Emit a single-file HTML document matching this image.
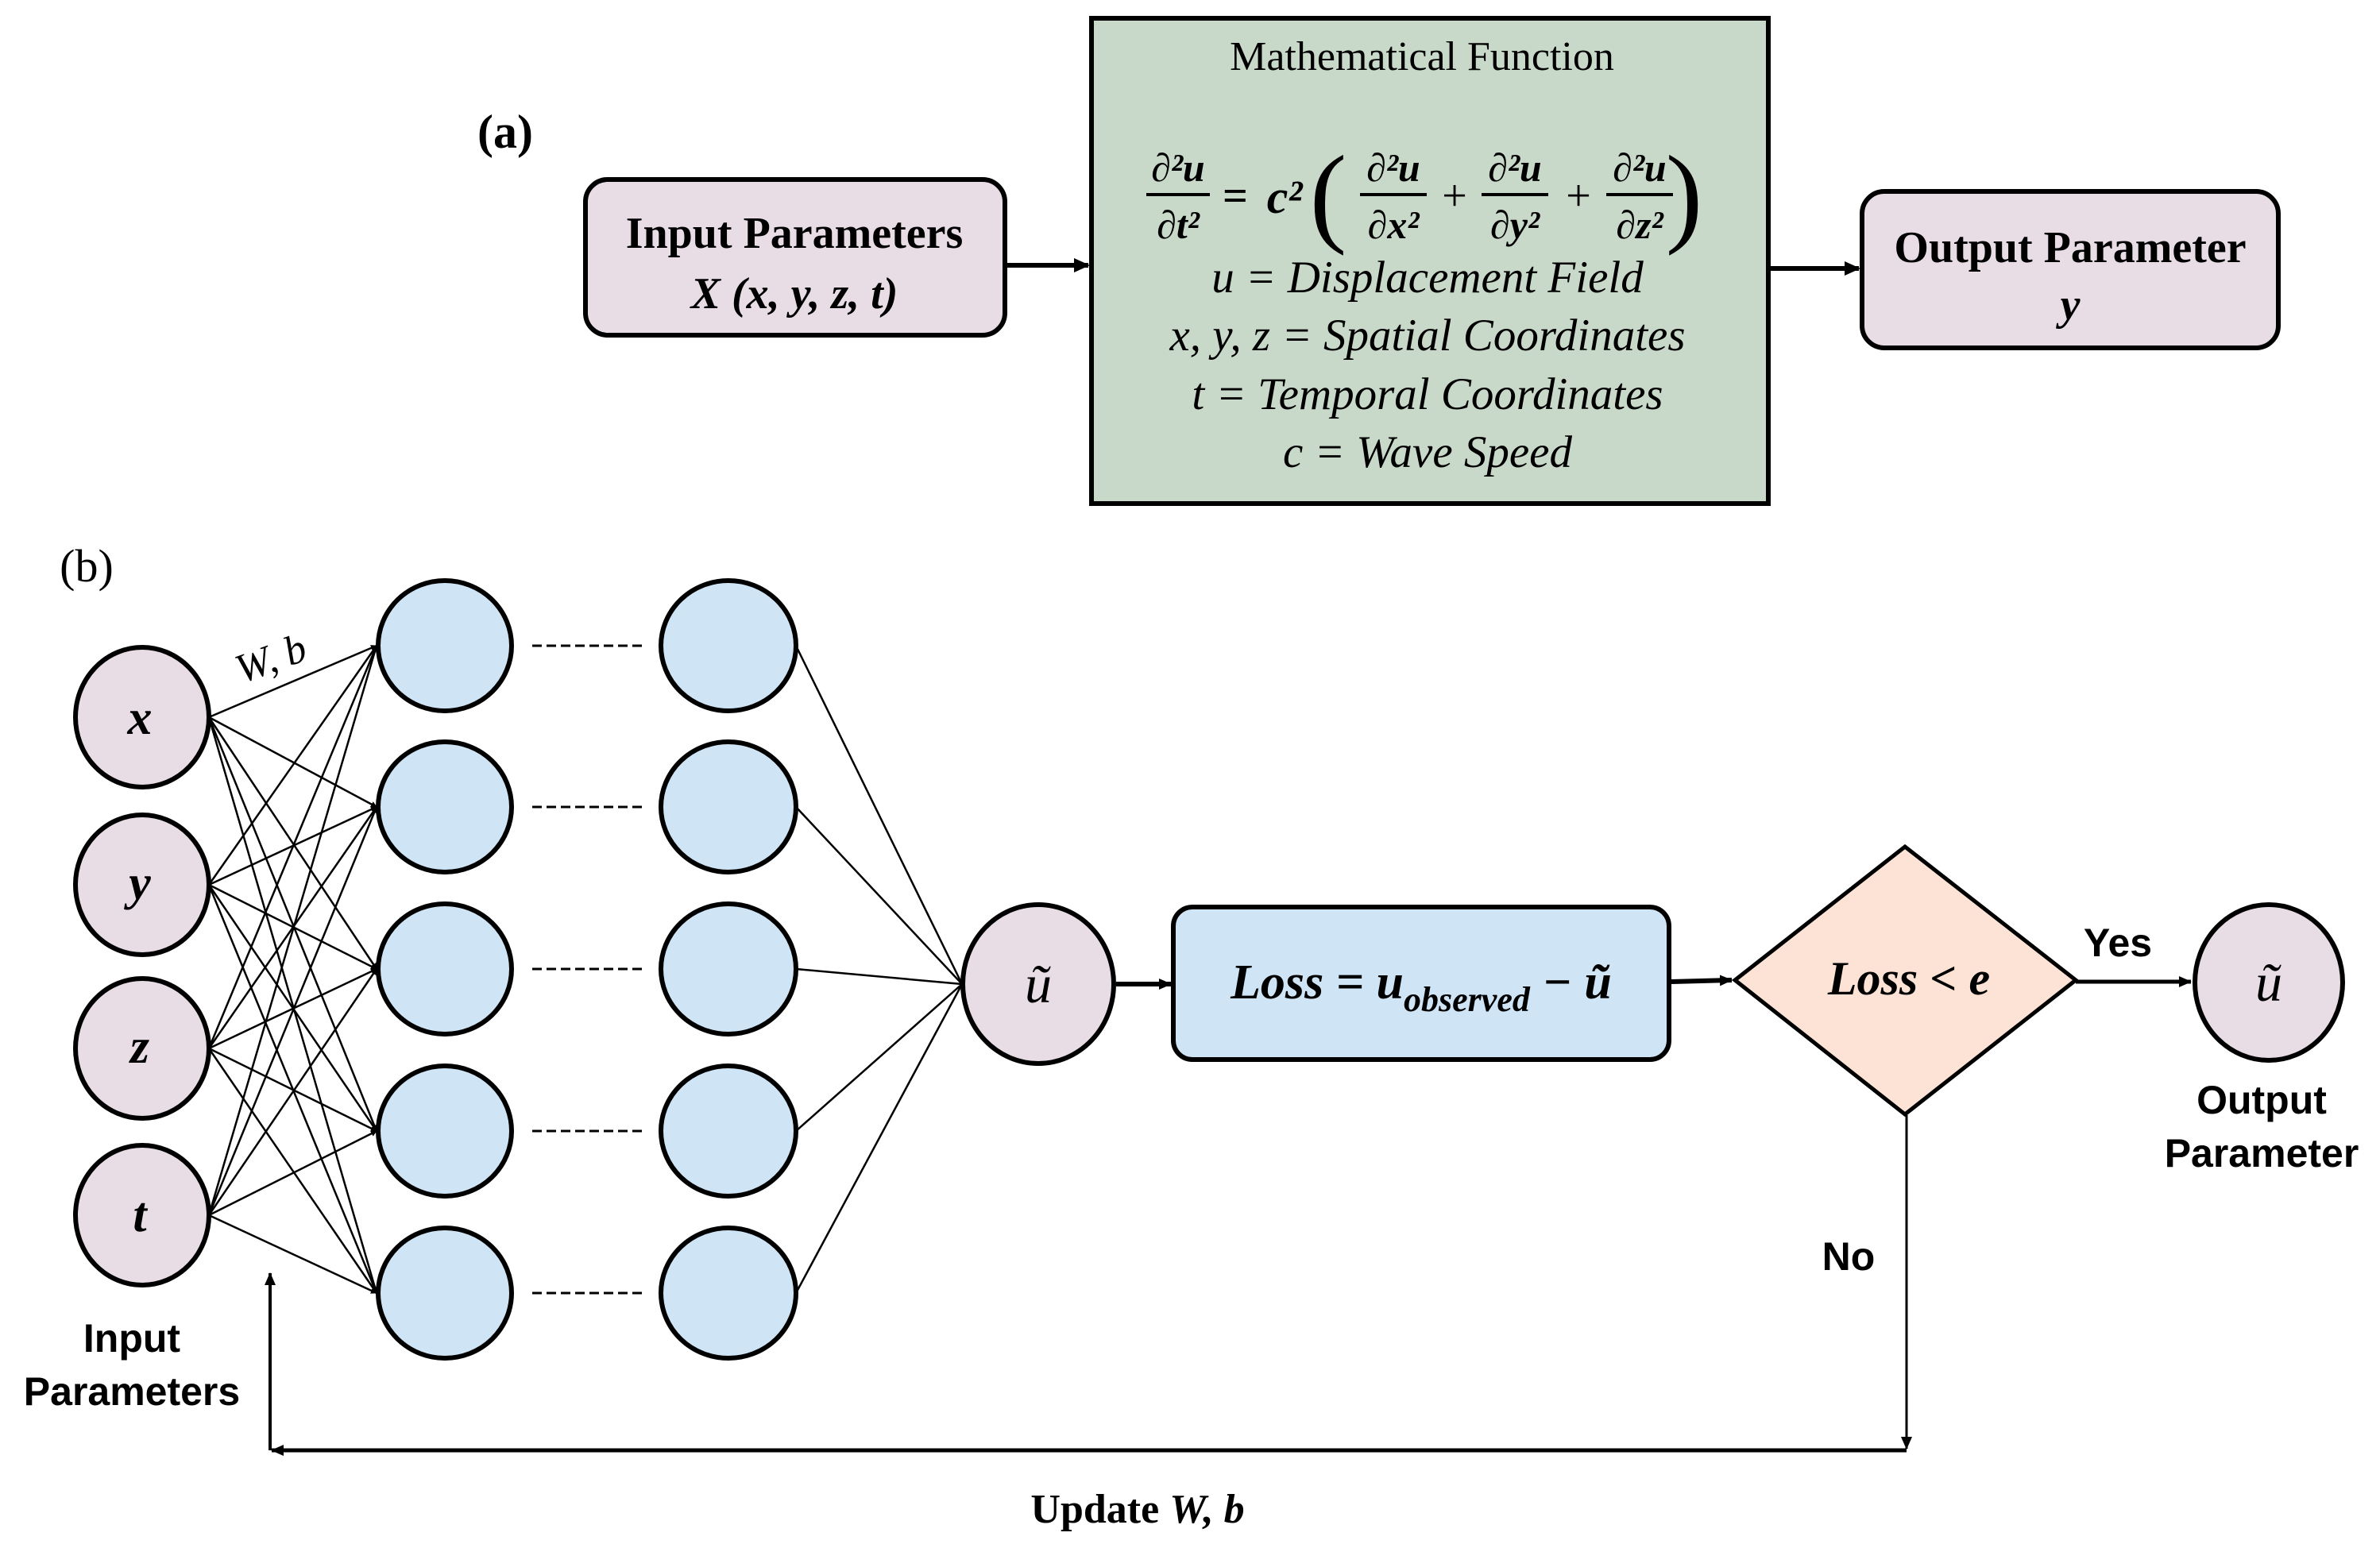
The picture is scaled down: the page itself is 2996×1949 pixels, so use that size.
<!DOCTYPE html>
<html><head><meta charset="utf-8"><style>
html,body{margin:0;padding:0;background:#fff;}
svg{display:block;}
.s{font-family:"Liberation Serif",serif;}
.a{font-family:"Liberation Sans",sans-serif;font-weight:bold;}
</style></head><body>
<svg width="2996" height="1949" viewBox="0 0 2996 1949" xmlns="http://www.w3.org/2000/svg">
<defs>
<marker id="ah" markerWidth="8" markerHeight="8" refX="7" refY="4" orient="auto" markerUnits="userSpaceOnUse">
<path d="M0,0 L8,4 L0,8 z" fill="#000"/></marker>
<marker id="ab" markerWidth="20" markerHeight="18" refX="18" refY="9" orient="auto" markerUnits="userSpaceOnUse">
<path d="M0,0 L20,9 L0,18 z" fill="#000"/></marker>
<marker id="am" markerWidth="16" markerHeight="14" refX="15" refY="7" orient="auto" markerUnits="userSpaceOnUse">
<path d="M0,0 L16,7 L0,14 z" fill="#000"/></marker>
</defs>

<!-- (a) -->
<text x="636" y="186" class="s" font-size="60" font-weight="bold" text-anchor="middle">(a)</text>
<rect x="737" y="226" width="528" height="196" rx="28" fill="#e8dde5" stroke="#000" stroke-width="6"/>
<text x="1000" y="312" class="s" font-size="56" font-weight="bold" text-anchor="middle">Input Parameters</text>
<text x="1000" y="388" class="s" font-size="56" font-weight="bold" font-style="italic" text-anchor="middle">X (x, y, z, t)</text>
<line x1="1268" y1="334" x2="1370" y2="334" stroke="#000" stroke-width="6" marker-end="url(#ab)"/>

<rect x="1374" y="23" width="852" height="611" fill="#c9d9c9" stroke="#000" stroke-width="6"/>
<text x="1790" y="88" class="s" font-size="52" text-anchor="middle">Mathematical Function</text>
<g class="s" font-style="italic" font-weight="bold" font-size="50" text-anchor="middle">
<text x="1483" y="228">∂²u</text><line x1="1443" y1="245" x2="1523" y2="245" stroke="#000" stroke-width="4"/><text x="1483" y="300">∂t²</text>
<text x="1555" y="265" font-style="normal" font-size="56">=</text>
<text x="1617" y="268" font-size="60">c²</text>
<text x="1672" y="292" font-style="normal" font-weight="normal" font-size="140">(</text>
<text x="1754" y="228">∂²u</text><line x1="1712" y1="245" x2="1796" y2="245" stroke="#000" stroke-width="4"/><text x="1754" y="300">∂x²</text>
<text x="1831" y="265" font-style="normal" font-weight="normal" font-size="56">+</text>
<text x="1907" y="228">∂²u</text><line x1="1865" y1="245" x2="1949" y2="245" stroke="#000" stroke-width="4"/><text x="1907" y="300">∂y²</text>
<text x="1987" y="265" font-style="normal" font-weight="normal" font-size="56">+</text>
<text x="2064" y="228">∂²u</text><line x1="2022" y1="245" x2="2106" y2="245" stroke="#000" stroke-width="4"/><text x="2064" y="300">∂z²</text>
<text x="2120" y="292" font-style="normal" font-weight="normal" font-size="140">)</text>
</g>
<g class="s" font-style="italic" font-size="57" text-anchor="middle">
<text x="1797" y="368">u = Displacement Field</text>
<text x="1797" y="441">x, y, z = Spatial Coordinates</text>
<text x="1797" y="515">t = Temporal Coordinates</text>
<text x="1797" y="588">c = Wave Speed</text>
</g>
<line x1="2229" y1="338" x2="2340" y2="338" stroke="#000" stroke-width="6" marker-end="url(#ab)"/>
<rect x="2344" y="241" width="524" height="197" rx="28" fill="#e8dde5" stroke="#000" stroke-width="6"/>
<text x="2606" y="330" class="s" font-size="56" font-weight="bold" text-anchor="middle">Output Parameter</text>
<text x="2606" y="402" class="s" font-size="56" font-weight="bold" font-style="italic" text-anchor="middle">y</text>

<!-- (b) -->
<text x="109" y="732" class="s" font-size="58" text-anchor="middle">(b)</text>
<g stroke="#000" stroke-width="2.5" marker-end="url(#ah)">
<line x1="263" y1="903" x2="474" y2="813"/><line x1="263" y1="903" x2="474" y2="1016"/><line x1="263" y1="903" x2="474" y2="1220"/><line x1="263" y1="903" x2="474" y2="1424"/><line x1="263" y1="903" x2="474" y2="1628"/>
<line x1="263" y1="1114" x2="474" y2="813"/><line x1="263" y1="1114" x2="474" y2="1016"/><line x1="263" y1="1114" x2="474" y2="1220"/><line x1="263" y1="1114" x2="474" y2="1424"/><line x1="263" y1="1114" x2="474" y2="1628"/>
<line x1="263" y1="1320" x2="474" y2="813"/><line x1="263" y1="1320" x2="474" y2="1016"/><line x1="263" y1="1320" x2="474" y2="1220"/><line x1="263" y1="1320" x2="474" y2="1424"/><line x1="263" y1="1320" x2="474" y2="1628"/>
<line x1="263" y1="1530" x2="474" y2="813"/><line x1="263" y1="1530" x2="474" y2="1016"/><line x1="263" y1="1530" x2="474" y2="1220"/><line x1="263" y1="1530" x2="474" y2="1424"/><line x1="263" y1="1530" x2="474" y2="1628"/>
</g>
<g stroke="#000" stroke-width="2.5">
<line x1="1002" y1="813" x2="1211" y2="1239"/><line x1="1002" y1="1016" x2="1211" y2="1239"/><line x1="1002" y1="1220" x2="1211" y2="1239"/><line x1="1002" y1="1424" x2="1211" y2="1239"/><line x1="1002" y1="1628" x2="1211" y2="1239"/>
</g>
<text x="342" y="846" class="s" font-size="52" font-style="italic" text-anchor="middle" transform="rotate(-20 342 832)">W, b</text>
<g fill="#e8dde5" stroke="#000" stroke-width="6">
<ellipse cx="179" cy="903" rx="84" ry="88"/><ellipse cx="179" cy="1114" rx="84" ry="88"/><ellipse cx="179" cy="1320" rx="84" ry="88"/><ellipse cx="179" cy="1530" rx="84" ry="88"/>
</g>
<g class="s" font-size="62" font-weight="bold" font-style="italic" text-anchor="middle">
<text x="176" y="924">x</text><text x="176" y="1132">y</text><text x="176" y="1338">z</text><text x="176" y="1550">t</text>
</g>
<g fill="#cfe4f5" stroke="#000" stroke-width="6">
<ellipse cx="560" cy="813" rx="84" ry="82"/><ellipse cx="560" cy="1016" rx="84" ry="82"/><ellipse cx="560" cy="1220" rx="84" ry="82"/><ellipse cx="560" cy="1424" rx="84" ry="82"/><ellipse cx="560" cy="1628" rx="84" ry="82"/>
<ellipse cx="917" cy="813" rx="85" ry="82"/><ellipse cx="917" cy="1016" rx="85" ry="82"/><ellipse cx="917" cy="1220" rx="85" ry="82"/><ellipse cx="917" cy="1424" rx="85" ry="82"/><ellipse cx="917" cy="1628" rx="85" ry="82"/>
</g>
<g stroke="#000" stroke-width="3" stroke-dasharray="12 6">
<line x1="670" y1="813" x2="808" y2="813"/><line x1="670" y1="1016" x2="808" y2="1016"/><line x1="670" y1="1220" x2="808" y2="1220"/><line x1="670" y1="1424" x2="808" y2="1424"/><line x1="670" y1="1628" x2="808" y2="1628"/>
</g>

<ellipse cx="1307" cy="1239" rx="95" ry="100" fill="#e8dde5" stroke="#000" stroke-width="6"/>
<text x="1307" y="1262" class="s" font-size="68" font-style="italic" text-anchor="middle">ũ</text>
<line x1="1405" y1="1239" x2="1474" y2="1239" stroke="#000" stroke-width="6" marker-end="url(#am)"/>
<rect x="1477" y="1142" width="624" height="192" rx="24" fill="#cfe4f5" stroke="#000" stroke-width="6"/>
<text x="1789" y="1257" class="s" font-size="62" font-weight="bold" font-style="italic" text-anchor="middle">Loss = u<tspan font-size="44" dy="16">observed</tspan><tspan dy="-16"> − ũ</tspan></text>
<line x1="2104" y1="1236" x2="2180" y2="1234" stroke="#000" stroke-width="6" marker-end="url(#am)"/>
<polygon points="2398,1066 2613,1234 2398,1403 2184,1234" fill="#fde3d5" stroke="#000" stroke-width="5"/>
<text x="2403" y="1252" class="s" font-size="60" font-weight="bold" font-style="italic" text-anchor="middle">Loss &lt; e</text>
<line x1="2613" y1="1236" x2="2758" y2="1236" stroke="#000" stroke-width="5" marker-end="url(#am)"/>
<text x="2666" y="1204" class="a" font-size="50" text-anchor="middle">Yes</text>
<ellipse cx="2856" cy="1237" rx="93" ry="98" fill="#e8dde5" stroke="#000" stroke-width="6"/>
<text x="2856" y="1260" class="s" font-size="68" font-style="italic" text-anchor="middle">ũ</text>
<text x="2847" y="1402" class="a" font-size="50" text-anchor="middle">Output</text>
<text x="2847" y="1469" class="a" font-size="50" text-anchor="middle">Parameter</text>

<line x1="2400" y1="1404" x2="2400" y2="1824" stroke="#000" stroke-width="3" marker-end="url(#am)"/>
<text x="2327" y="1599" class="a" font-size="50" text-anchor="middle">No</text>
<line x1="2400" y1="1826" x2="342" y2="1826" stroke="#000" stroke-width="5" marker-end="url(#am)"/>
<line x1="340" y1="1826" x2="340" y2="1603" stroke="#000" stroke-width="4" marker-end="url(#am)"/>
<text x="166" y="1702" class="a" font-size="50" text-anchor="middle">Input</text>
<text x="166" y="1769" class="a" font-size="50" text-anchor="middle">Parameters</text>
<text x="1432" y="1917" class="s" font-size="52" font-weight="bold" text-anchor="middle">Update <tspan font-style="italic">W, b</tspan></text>
</svg>
</body></html>
